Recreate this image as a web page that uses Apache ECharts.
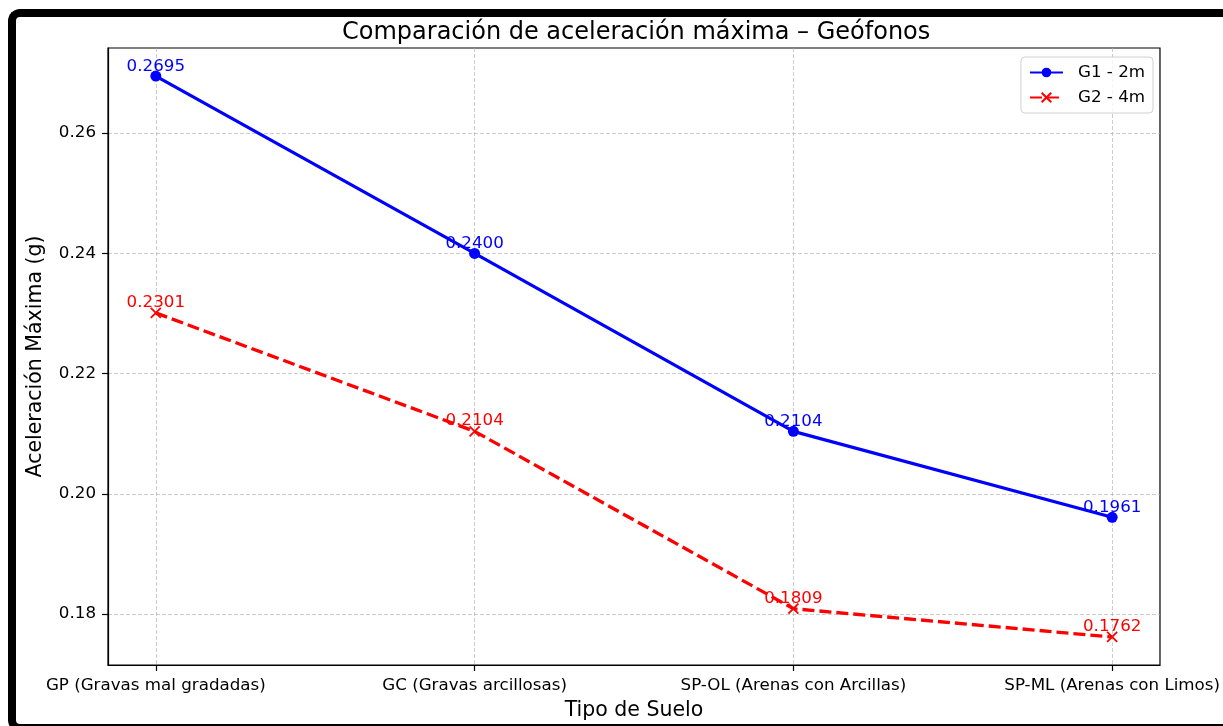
<!DOCTYPE html>
<html>
<head>
<meta charset="utf-8">
<script src="https://cdn.jsdelivr.net/npm/echarts@6/dist/echarts.min.js"></script>
<style>
html,body{margin:0;padding:0;background:#fff;overflow:hidden;width:1223px;height:726px;}
#chart{position:absolute;left:0;top:0;width:1223px;height:726px;}
#frame{position:absolute;left:8px;top:9px;width:1215px;height:723px;box-sizing:border-box;border:8px solid #000;border-right:none;border-radius:12px 0 0 12px;pointer-events:none;}
</style>
</head>
<body>
<div id="chart"></div>
<div id="frame"></div>
<script>
const categories = ["GP (Gravas mal gradadas)", "GC (Gravas arcillosas)", "SP-OL (Arenas con Arcillas)", "SP-ML (Arenas con Limos)"];
const g1Values = [0.2695, 0.2400, 0.2104, 0.1961];
const g2Values = [0.2301, 0.2104, 0.1809, 0.1762];
const yTicks = [0.18, 0.20, 0.22, 0.24, 0.26];
const xTicks = [0, 1, 2, 3];

const FONT = "DejaVu Sans";
const chart = echarts.init(document.getElementById('chart'), null, {renderer: 'canvas'});

const allVals = g1Values.concat(g2Values);
const vMin = Math.min(...allVals), vMax = Math.max(...allVals);
const pad = (vMax - vMin) * 0.05;

const gridLine = {show: true, lineStyle: {color: '#b0b0b0', width: 0.8, type: [4, 2], opacity: 0.8}};

chart.setOption({
  animation: false,
  backgroundColor: 'transparent',
  textStyle: {fontFamily: FONT},
  title: {
    text: 'Comparación de aceleración máxima – Geófonos',
    left: 337, top: 16,
    textStyle: {fontFamily: FONT, fontSize: 24, fontWeight: 'normal', color: '#000'}
  },
  legend: {
    orient: 'vertical',
    right: 70, top: 57,
    padding: [7, 8, 7, 8],
    itemWidth: 33, itemHeight: 12, itemGap: 8,
    backgroundColor: 'rgba(255,255,255,0.8)',
    borderColor: '#d0d0d0', borderWidth: 1, borderRadius: 4,
    textStyle: {fontFamily: FONT, fontSize: 16.7, color: '#000', lineHeight: 17, padding: [0, 0, 0, 10]},
    data: ['G1 - 2m', 'G2 - 4m']
  },
  grid: {left: 108, top: 48, right: 61, bottom: 60, show: true, borderColor: '#000', borderWidth: 1.2, backgroundColor: 'transparent'},
  xAxis: {
    type: 'value',
    min: -0.15, max: 3.15,
    name: 'Tipo de Suelo',
    nameLocation: 'middle', nameGap: 35,
    nameTextStyle: {fontFamily: FONT, fontSize: 20.5, color: '#000'},
    axisLine: {show: true, onZero: false, lineStyle: {color: '#000', width: 1.2}},
    axisTick: {show: true, customValues: xTicks, length: 6, lineStyle: {color: '#000', width: 1.2}},
    axisLabel: {
      customValues: xTicks, margin: 12,
      fontFamily: FONT, fontSize: 16.7, color: '#000',
      formatter: v => categories[Math.round(v)]
    },
    splitLine: Object.assign({customValues: xTicks}, gridLine)
  },
  yAxis: {
    type: 'value',
    min: vMin - pad, max: vMax + pad,
    name: 'Aceleración Máxima (g)',
    nameLocation: 'middle', nameGap: 62,
    nameTextStyle: {fontFamily: FONT, fontSize: 20.5, color: '#000'},
    axisLine: {show: true, onZero: false, lineStyle: {color: '#000', width: 1.2}},
    axisTick: {show: true, customValues: yTicks, length: 6, lineStyle: {color: '#000', width: 1.2}},
    axisLabel: {
      customValues: yTicks, margin: 12,
      fontFamily: FONT, fontSize: 16.7, color: '#000',
      formatter: v => v.toFixed(2)
    },
    splitLine: Object.assign({customValues: yTicks}, gridLine)
  },
  series: [
    {
      name: 'G1 - 2m',
      type: 'line',
      data: g1Values.map((v, i) => [i, v]),
      symbol: 'circle', symbolSize: 11,
      lineStyle: {color: '#0000ff', width: 3.2},
      itemStyle: {color: '#0000ff'},
      label: {
        show: true, position: 'top', distance: -4.5,
        fontFamily: FONT, fontSize: 16.7, color: '#0000ff',
        formatter: p => p.value[1].toFixed(4)
      },
      z: 3
    },
    {
      name: 'G2 - 4m',
      type: 'line',
      data: g2Values.map((v, i) => [i, v]),
      symbol: 'path://M0,0L10,10M10,0L0,10', symbolSize: 10,
      lineStyle: {color: '#ff0000', width: 3.3, type: [12, 5]},
      itemStyle: {color: '#ff0000', borderColor: '#ff0000', borderWidth: 1.8},
      label: {
        show: true, position: 'top', distance: -4,
        fontFamily: FONT, fontSize: 16.7, color: '#ff0000',
        formatter: p => p.value[1].toFixed(4)
      },
      z: 2
    }
  ]
});
</script>
</body>
</html>
